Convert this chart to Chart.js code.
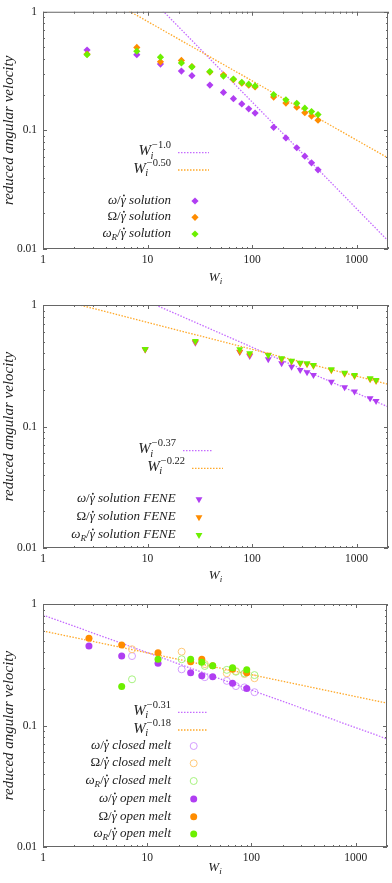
<!DOCTYPE html>
<html>
<head>
<meta charset="utf-8">
<script src="https://cdn.jsdelivr.net/npm/chart.js@4.4.1/dist/chart.umd.min.js"></script>
<style>
	html, body { margin: 0; padding: 0; background: #fff; }
	canvas { position: absolute; left: 0; }
</style>
</head>
<body>
<canvas id="c1" width="392" height="290" style="top:0px"></canvas>
<canvas id="c2" width="392" height="300" style="top:290px"></canvas>
<canvas id="c3" width="392" height="293" style="top:590px"></canvas>
<script>
// axes
var xMin = 1, xMax = 2000;
var yMin = 0.01, yMax = 1;
var xTicks = [1, 10, 100, 1000];
var yTicks = [0.01, 0.1, 1];

// panel 1 : solution
var wi1 = [2.64, 7.9, 13.3, 21.1, 26.6, 39.5, 53.3, 66.4, 79.8, 93, 107, 161, 211, 268, 320, 371, 428];
var omega1 = [0.476, 0.435, 0.362, 0.316, 0.289, 0.241, 0.209, 0.185, 0.167, 0.152, 0.140, 0.106, 0.0864, 0.0714, 0.0606, 0.0533, 0.0465];
var bigOmega1 = [0.44, 0.50, 0.378, 0.389, 0.345, 0.31, 0.294, 0.268, 0.25, 0.24, 0.232, 0.191, 0.170, 0.157, 0.141, 0.132, 0.122];
var omegaR1 = [0.435, 0.465, 0.414, 0.370, 0.343, 0.313, 0.287, 0.271, 0.254, 0.245, 0.237, 0.200, 0.181, 0.169, 0.154, 0.144, 0.136];
var fitAmp1 = [10.97, 2.62];
var fitExp1 = [-0.9, -0.5];

// panel 2 : solution FENE
var wi2 = [9.5, 28.7, 76.3, 95, 143, 192, 239, 289, 336, 387, 574, 769, 957, 1349, 1538];
var omega2 = [0.43, 0.49, 0.41, 0.38, 0.357, 0.331, 0.31, 0.292, 0.279, 0.265, 0.234, 0.21, 0.194, 0.171, 0.162];
var bigOmega2 = [0.43, 0.495, 0.413, 0.39, 0.39, 0.358, 0.342, 0.33, 0.326, 0.316, 0.29, 0.272, 0.26, 0.245, 0.237];
var omegaR2 = [0.435, 0.505, 0.432, 0.40, 0.385, 0.364, 0.348, 0.335, 0.331, 0.321, 0.296, 0.277, 0.265, 0.249, 0.241];
var fitAmp2 = [2.55, 1.196];
var fitExp2 = [-0.377, -0.221];

// panel 3 : melts
var wiOpen = [2.76, 5.69, 12.7, 26.1, 33.4, 42.5, 65.9, 90.2];
var omegaOpen = [0.451, 0.373, 0.325, 0.272, 0.257, 0.252, 0.223, 0.202];
var bigOmegaOpen = [0.522, 0.46, 0.397, 0.335, 0.351, 0.31, 0.29, 0.272];
var omegaROpen = [null, 0.209, 0.351, 0.351, 0.331, 0.311, 0.299, 0.287];
var wiClosed = [7.15, 21.4, 35.7, 58, 71, 85.8, 107];
var omegaClosed = [0.373, 0.29, 0.25, 0.233, 0.211, 0.206, 0.188];
var bigOmegaClosed = [0.424, 0.405, 0.32, 0.269, 0.28, 0.265, 0.245];
var omegaRClosed = [0.24, 0.351, 0.309, 0.287, 0.277, 0.269, 0.26];
var fitAmp3 = [0.812, 0.6];
var fitExp3 = [-0.309, -0.18];

var FONT = '"Liberation Serif", "Times New Roman", serif';
var TEXT = '#222';
var FRAME = '#666';
var PURPLE = '#b03ef2', ORANGE = '#ff8c00', GREEN = '#6cf000';
var PURPLE_LINE = '#c56cff', ORANGE_LINE = '#ffa92a';
var PURPLE_OPEN = '#d39cff', ORANGE_OPEN = '#ffc978', GREEN_OPEN = '#a6f27e';

// math text pieces
function I(t) { return {t: t, f: 'i'}; }
function R(t) { return {t: t, f: 'r'}; }
function Sub(t, stack) { return {t: t, f: 'sub', stack: !!stack}; }
function Sup(t) { return {t: t, f: 'sup'}; }
function Dot(t) { return {t: t, f: 'dot'}; }
function powLabel(e) { return [I('W'), Sub('i', true), Sup(e)]; }
function ratio(sym, what) {
	var p = sym === 'ωR' ? [I('ω'), Sub('R')] : (sym === 'Ω' ? [R('Ω')] : [I('ω')]);
	return p.concat([R('/'), Dot('γ'), I(' ' + what)]);
}

function fontOf(f, size) {
	var s = size * 0.7;
	if (f === 'r') return size + 'px ' + FONT;
	if (f === 'sup') return s + 'px ' + FONT;
	if (f === 'sub') return 'italic ' + s + 'px ' + FONT;
	return 'italic ' + size + 'px ' + FONT;
}

function drawTex(ctx, parts, xRef, base, size, align) {
	var x = 0, pend = 0, items = [];
	parts.forEach(function (p) {
		ctx.font = fontOf(p.f, size);
		var w = ctx.measureText(p.t).width;
		if (p.f === 'sub' && p.stack) { items.push({p: p, x: x - 0.5, w: w}); pend = w; return; }
		if (pend) { items.push({p: p, x: x + 1, w: w}); x += Math.max(pend, w + 1); pend = 0; return; }
		items.push({p: p, x: x, w: w});
		x += w;
	});
	var x0 = align === 'center' ? xRef - x / 2 : xRef - x;
	ctx.textAlign = 'left';
	ctx.textBaseline = 'alphabetic';
	items.forEach(function (it) {
		var p = it.p, y = base;
		if (p.f === 'sub') y = base + size * 0.24;
		if (p.f === 'sup') y = base - size * 0.45;
		ctx.font = fontOf(p.f, size);
		ctx.fillText(p.t, x0 + it.x, y);
		if (p.f === 'dot') {
			ctx.beginPath();
			ctx.arc(x0 + it.x + it.w * 0.62, base - size * 0.66, size * 0.07, 0, 2 * Math.PI);
			ctx.fill();
		}
	});
}

function drawMarker(ctx, style, x, y, r, fill, stroke) {
	ctx.beginPath();
	if (style === 'rectRot') {
		ctx.moveTo(x - r, y); ctx.lineTo(x, y - r); ctx.lineTo(x + r, y); ctx.lineTo(x, y + r);
		ctx.closePath();
	} else if (style === 'triangle') {
		for (var k = 0; k < 3; k++) {
			var a = Math.PI + k * 2 * Math.PI / 3;
			var px = x + Math.sin(a) * r, py = y - Math.cos(a) * r;
			if (k === 0) ctx.moveTo(px, py); else ctx.lineTo(px, py);
		}
		ctx.closePath();
	} else {
		ctx.arc(x, y, r, 0, 2 * Math.PI);
	}
	if (fill) { ctx.fillStyle = fill; ctx.fill(); }
	if (stroke) { ctx.strokeStyle = stroke; ctx.lineWidth = 1; ctx.stroke(); }
}

var legends = {};
var titleDy = {};

var framePlugin = {
	id: 'frame',
	afterDatasetsDraw: function (chart) {
		var ctx = chart.ctx, a = chart.chartArea, xs = chart.scales.x, ys = chart.scales.y;
		ctx.save();
		ctx.strokeStyle = FRAME;
		ctx.lineWidth = 1;
		ctx.strokeRect(a.left + 0.5, a.top + 0.5, a.right - a.left - 1, a.bottom - a.top - 1);
		ctx.beginPath();
		xTicks.forEach(function (d) {
			for (var k = 1; k < 10; k++) {
				var v = d * k;
				if (v > xMax) break;
				var px = Math.round(xs.getPixelForValue(v)) + 0.5, len = k === 1 ? 4 : 2;
				ctx.moveTo(px, a.bottom); ctx.lineTo(px, a.bottom - len);
				ctx.moveTo(px, a.top); ctx.lineTo(px, a.top + len);
			}
		});
		yTicks.forEach(function (d) {
			for (var k = 1; k < 10; k++) {
				var v = d * k;
				if (v > yMax) break;
				var py = Math.round(ys.getPixelForValue(v)) + 0.5, len = k === 1 ? 4 : 2;
				ctx.moveTo(a.left, py); ctx.lineTo(a.left + len, py);
				ctx.moveTo(a.right, py); ctx.lineTo(a.right - len, py);
			}
		});
		ctx.stroke();
		ctx.restore();
	},
	afterDraw: function (chart) {
		var ctx = chart.ctx, a = chart.chartArea;
		ctx.save();
		ctx.fillStyle = TEXT;
		drawTex(ctx, [I('W'), Sub('i')], (a.left + a.right) / 2, a.bottom + titleDy[chart.canvas.id], 13, 'center');
		(legends[chart.canvas.id] || []).forEach(function (row) {
			ctx.fillStyle = TEXT;
			if (row.kind === 'line') {
				drawTex(ctx, row.label, row.textRight, row.y + 2.5, 15, 'right');
				ctx.strokeStyle = row.color;
				ctx.lineWidth = 1.3;
				ctx.setLineDash([1.5, 1.5]);
				ctx.beginPath();
				ctx.moveTo(row.x0, row.y); ctx.lineTo(row.x1, row.y);
				ctx.stroke();
				ctx.setLineDash([]);
			} else {
				drawTex(ctx, row.label, row.textRight, row.y + 3, 13, 'right');
				drawMarker(ctx, row.style, row.x0, row.y, row.r, row.fill, row.stroke);
			}
		});
		ctx.restore();
	}
};

function pts(xs, ys) {
	return xs.map(function (x, i) { return {x: x, y: ys[i]}; }).filter(function (p) { return p.y != null; });
}

function fitLine(amp, exp, color, order) {
	return {
		type: 'scatter', showLine: true, order: order,
		data: [{x: xMin, y: amp * Math.pow(xMin, exp)}, {x: xMax, y: amp * Math.pow(xMax, exp)}],
		borderColor: color, borderWidth: 1.3, borderDash: [1.5, 1.5],
		pointRadius: 0, clip: 0
	};
}

function marks(xs, ys, style, r, fill, stroke, order) {
	return {
		type: 'scatter', order: order, data: pts(xs, ys),
		pointStyle: style, pointRadius: r, pointRotation: style === 'triangle' ? 180 : 0,
		backgroundColor: fill || 'rgba(0,0,0,0)', pointBackgroundColor: fill || 'rgba(0,0,0,0)',
		borderColor: stroke || fill, pointBorderColor: stroke || fill,
		borderWidth: stroke ? 1 : 0, pointBorderWidth: stroke ? 1 : 0
	};
}

function makeChart(id, datasets, padTop, bottomH) {
	return new Chart(document.getElementById(id), {
		type: 'scatter',
		data: {datasets: datasets},
		plugins: [framePlugin],
		options: {
			responsive: false,
			animation: false,
			events: [],
			layout: {padding: {left: 0, right: 2, top: padTop, bottom: 0}},
			plugins: {legend: {display: false}, tooltip: {enabled: false}},
			scales: {
				x: {
					type: 'logarithmic', min: xMin, max: xMax,
					afterBuildTicks: function (s) { s.ticks = xTicks.map(function (v) { return {value: v}; }); },
					afterFit: function (s) { s.height = bottomH; },
					grid: {display: false, drawTicks: false}, border: {display: false},
					ticks: {autoSkip: false, maxRotation: 0, padding: 4, color: TEXT,
						font: {family: FONT, size: 11.5}, callback: function (v) { return String(v); }}
				},
				y: {
					type: 'logarithmic', min: yMin, max: yMax,
					afterBuildTicks: function (s) { s.ticks = yTicks.map(function (v) { return {value: v}; }); },
					afterFit: function (s) { s.width = 43; },
					grid: {display: false, drawTicks: false}, border: {display: false},
					ticks: {autoSkip: false, padding: 6, color: TEXT,
						font: {family: FONT, size: 11.5, lineHeight: 1}, callback: function (v) { return String(v); }},
					title: {display: true, text: 'reduced angular velocity', color: TEXT,
						font: {family: FONT, size: 15, style: 'italic'}, padding: {top: 0, bottom: 0}}
				}
			}
		}
	});
}

// panel 1
legends.c1 = [
	{kind: 'line', label: powLabel('−1.0'), color: PURPLE_LINE, y: 152.7, textRight: 171, x0: 178, x1: 209},
	{kind: 'line', label: powLabel('−0.50'), color: ORANGE_LINE, y: 170, textRight: 171, x0: 178, x1: 209},
	{kind: 'mark', label: ratio('ω', 'solution'), style: 'rectRot', r: 3.6, fill: PURPLE, y: 201, textRight: 171, x0: 195},
	{kind: 'mark', label: ratio('Ω', 'solution'), style: 'rectRot', r: 3.6, fill: ORANGE, y: 217.3, textRight: 171, x0: 195},
	{kind: 'mark', label: ratio('ωR', 'solution'), style: 'rectRot', r: 3.6, fill: GREEN, y: 234, textRight: 171, x0: 195}
];
titleDy.c1 = 32;
makeChart('c1', [
	fitLine(fitAmp1[0], fitExp1[0], PURPLE_LINE, 5),
	fitLine(fitAmp1[1], fitExp1[1], ORANGE_LINE, 4),
	marks(wi1, omega1, 'rectRot', 3.6, PURPLE, null, 3),
	marks(wi1, bigOmega1, 'rectRot', 3.6, ORANGE, null, 2),
	marks(wi1, omegaR1, 'rectRot', 3.6, GREEN, null, 1)
], 7, 41);

// panel 2
legends.c2 = [
	{kind: 'line', label: powLabel('−0.37'), color: PURPLE_LINE, y: 160.7, textRight: 176, x0: 183, x1: 213},
	{kind: 'line', label: powLabel('−0.22'), color: ORANGE_LINE, y: 178.3, textRight: 185, x0: 192, x1: 223},
	{kind: 'mark', label: ratio('ω', 'solution FENE'), style: 'triangle', r: 4, fill: PURPLE, y: 209.3, textRight: 175.7, x0: 199},
	{kind: 'mark', label: ratio('Ω', 'solution FENE'), style: 'triangle', r: 4, fill: ORANGE, y: 227.3, textRight: 175.7, x0: 199},
	{kind: 'mark', label: ratio('ωR', 'solution FENE'), style: 'triangle', r: 4, fill: GREEN, y: 245, textRight: 175.7, x0: 199}
];
titleDy.c2 = 31;
makeChart('c2', [
	fitLine(fitAmp2[0], fitExp2[0], PURPLE_LINE, 5),
	fitLine(fitAmp2[1], fitExp2[1], ORANGE_LINE, 4),
	marks(wi2, omega2, 'triangle', 4, PURPLE, null, 3),
	marks(wi2, bigOmega2, 'triangle', 4, ORANGE, null, 2),
	marks(wi2, omegaR2, 'triangle', 4, GREEN, null, 1)
], 15, 42);

// panel 3
legends.c3 = [
	{kind: 'line', label: powLabel('−0.31'), color: PURPLE_LINE, y: 122.3, textRight: 171, x0: 178, x1: 208},
	{kind: 'line', label: powLabel('−0.18'), color: ORANGE_LINE, y: 140, textRight: 171, x0: 178, x1: 208},
	{kind: 'mark', label: ratio('ω', 'closed melt'), style: 'circle', r: 3.5, stroke: PURPLE_OPEN, y: 156, textRight: 171, x0: 193.7},
	{kind: 'mark', label: ratio('Ω', 'closed melt'), style: 'circle', r: 3.5, stroke: ORANGE_OPEN, y: 173.3, textRight: 171, x0: 193.7},
	{kind: 'mark', label: ratio('ωR', 'closed melt'), style: 'circle', r: 3.5, stroke: GREEN_OPEN, y: 191, textRight: 171, x0: 193.7},
	{kind: 'mark', label: ratio('ω', 'open melt'), style: 'circle', r: 3.5, fill: PURPLE, y: 209, textRight: 171, x0: 193.7},
	{kind: 'mark', label: ratio('Ω', 'open melt'), style: 'circle', r: 3.5, fill: ORANGE, y: 226.7, textRight: 171, x0: 193.7},
	{kind: 'mark', label: ratio('ωR', 'open melt'), style: 'circle', r: 3.5, fill: GREEN, y: 244, textRight: 171, x0: 193.7}
];
titleDy.c3 = 24;
makeChart('c3', [
	fitLine(fitAmp3[0], fitExp3[0], PURPLE_LINE, 8),
	fitLine(fitAmp3[1], fitExp3[1], ORANGE_LINE, 7),
	marks(wiClosed, omegaClosed, 'circle', 3.5, null, PURPLE_OPEN, 6),
	marks(wiClosed, bigOmegaClosed, 'circle', 3.5, null, ORANGE_OPEN, 5),
	marks(wiClosed, omegaRClosed, 'circle', 3.5, null, GREEN_OPEN, 4),
	marks(wiOpen, omegaOpen, 'circle', 3.5, PURPLE, null, 3),
	marks(wiOpen, bigOmegaOpen, 'circle', 3.5, ORANGE, null, 2),
	marks(wiOpen, omegaROpen, 'circle', 3.5, GREEN, null, 1)
], 14, 36);
</script>
</body>
</html>
